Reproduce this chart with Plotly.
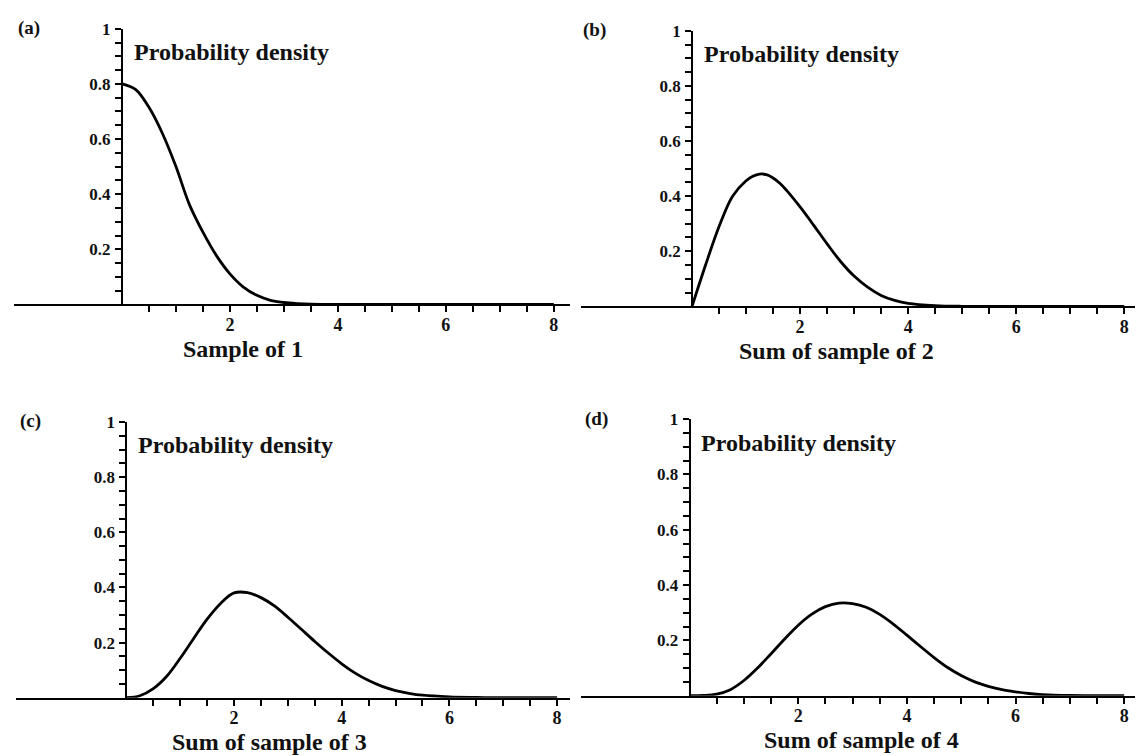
import plotly.graph_objects as go

# Density curves for the four panels (x = value of the sum, y = probability density)
x_one = [0, 0.25, 0.5, 0.75, 1.0, 1.25, 1.5, 1.75, 2.0, 2.25, 2.5, 2.75, 3.0, 3.25, 3.5, 4.0, 5.0, 6.0, 7.0, 8.0]
y_one = [0.80, 0.78, 0.715, 0.62, 0.50, 0.362, 0.262, 0.177, 0.111, 0.063, 0.033, 0.015, 0.007, 0.003, 0.001, 0.0, 0.0, 0.0, 0.0, 0.0]

x_two = [0, 0.25, 0.5, 0.75, 1.0, 1.125, 1.25, 1.375, 1.5, 1.625, 1.75, 2.0, 2.25, 2.5, 2.75, 3.0, 3.25, 3.5, 3.75, 4.0, 4.5, 5.0, 6.0, 7.0, 8.0]
y_two = [0.0, 0.15, 0.29, 0.40, 0.456, 0.472, 0.480, 0.478, 0.466, 0.447, 0.421, 0.361, 0.295, 0.227, 0.163, 0.11, 0.07, 0.04, 0.022, 0.011, 0.003, 0.0005, 0.0, 0.0, 0.0]

x_three = [0, 0.25, 0.5, 0.75, 1.0, 1.25, 1.5, 1.75, 2.0, 2.25, 2.5, 2.75, 3.0, 3.25, 3.5, 3.75, 4.0, 4.25, 4.5, 4.75, 5.0, 5.25, 5.5, 6.0, 6.5, 7.0, 8.0]
y_three = [0.0, 0.007, 0.033, 0.078, 0.143, 0.215, 0.285, 0.342, 0.380, 0.381, 0.363, 0.333, 0.292, 0.248, 0.204, 0.162, 0.123, 0.089, 0.062, 0.041, 0.026, 0.016, 0.009, 0.003, 0.001, 0.0, 0.0]

x_four = [0, 0.25, 0.5, 0.75, 1.0, 1.25, 1.5, 1.75, 2.0, 2.25, 2.5, 2.75, 3.0, 3.25, 3.5, 3.75, 4.0, 4.25, 4.5, 4.75, 5.0, 5.25, 5.5, 5.75, 6.0, 6.25, 6.5, 7.0, 8.0]
y_four = [0.0, 0.001, 0.006, 0.022, 0.055, 0.10, 0.152, 0.205, 0.255, 0.295, 0.322, 0.335, 0.333, 0.32, 0.294, 0.259, 0.219, 0.178, 0.138, 0.102, 0.073, 0.050, 0.034, 0.022, 0.014, 0.008, 0.004, 0.001, 0.0]

panel_tags = ["(a)", "(b)", "(c)", "(d)"]
x_titles = ["Sample of 1", "Sum of sample of 2", "Sum of sample of 3", "Sum of sample of 4"]
density_label = "Probability density"

x_tick_vals = [0.5, 1, 1.5, 2, 2.5, 3, 3.5, 4, 4.5, 5, 5.5, 6, 6.5, 7, 7.5, 8]
x_tick_labels = ["", "", "", "2", "", "", "", "4", "", "", "", "6", "", "", "", "8"]
y_tick_vals = [0.05, 0.1, 0.15, 0.2, 0.25, 0.3, 0.35, 0.4, 0.45, 0.5,
               0.55, 0.6, 0.65, 0.7, 0.75, 0.8, 0.85, 0.9, 0.95, 1.0]
y_tick_labels = ["", "", "", "0.2", "", "", "", "0.4", "", "", "", "0.6", "", "", "", "0.8", "", "", "", "1"]

curves = [(x_one, y_one), (x_two, y_two), (x_three, y_three), (x_four, y_four)]

W, H = 1138, 756
FONT = "Liberation Serif, Times New Roman, serif"

# Panel geometry in pixels: (left, right), (top, bottom), x range, title position, tag position
panels = [
    dict(px=(14, 570), py=(20, 299), xr=(-2.0, 8.3), title_x=2.24, tag=(29, 19)),
    dict(px=(581, 1135), py=(22, 301), xr=(-2.056, 8.2), title_x=2.67, tag=(594, 21)),
    dict(px=(16, 570), py=(418, 697), xr=(-2.05, 8.24), title_x=2.65, tag=(30, 417)),
    dict(px=(581, 1135), py=(415, 695), xr=(-2.0, 8.2), title_x=3.16, tag=(596, 415)),
]

fig = go.Figure()
annotations = []

for i, (p, (xs, ys)) in enumerate(zip(panels, curves)):
    n = i + 1
    xa = "xaxis" if n == 1 else f"xaxis{n}"
    ya = "yaxis" if n == 1 else f"yaxis{n}"
    xref = "x" if n == 1 else f"x{n}"
    yref = "y" if n == 1 else f"y{n}"

    d0, d1 = p["px"][0] / W, p["px"][1] / W
    yd0, yd1 = 1 - p["py"][1] / H, 1 - p["py"][0] / H
    r0, r1 = p["xr"]
    ypos = d0 + (0 - r0) / (r1 - r0) * (d1 - d0)

    fig.add_trace(go.Scatter(
        x=xs, y=ys, mode="lines", xaxis=xref, yaxis=yref,
        line=dict(color="black", width=2.8, shape="spline", smoothing=1.0),
        showlegend=False, hoverinfo="skip", cliponaxis=False,
    ))

    fig.layout[xa] = dict(
        domain=[d0, d1], range=[r0, r1], anchor=yref,
        showline=True, linecolor="black", linewidth=2,
        showgrid=False, zeroline=False,
        ticks="outside", ticklen=6, tickwidth=1.6, tickcolor="black",
        tickvals=x_tick_vals, ticktext=x_tick_labels,
        tickfont=dict(family=FONT, size=18, color="#111", weight="bold"),
        ticklabelstandoff=-3,
    )
    fig.layout[ya] = dict(
        domain=[yd0, yd1], range=[0, 1], anchor="free", position=ypos,
        showline=True, linecolor="black", linewidth=2,
        showgrid=False, zeroline=False,
        ticks="outside", ticklen=6, tickwidth=1.6, tickcolor="black",
        tickvals=y_tick_vals, ticktext=y_tick_labels,
        tickfont=dict(family=FONT, size=17, color="#111", weight="bold"),
        ticklabelstandoff=1,
    )

    # "Probability density" inside the panel, just right of the vertical axis
    annotations.append(dict(
        x=0.18, y=0.915, xref=xref, yref=yref, xanchor="left", yanchor="middle",
        text=f"<b>{density_label}</b>", showarrow=False,
        font=dict(family=FONT, size=24, color="#111"),
    ))
    # Axis title under the tick labels
    annotations.append(dict(
        x=p["title_x"], y=1 - (p["py"][1] + 45) / H, xref=xref, yref="paper",
        xanchor="center", yanchor="middle",
        text=f"<b>{x_titles[i]}</b>", showarrow=False,
        font=dict(family=FONT, size=24, color="#111"),
    ))
    # Panel tag
    annotations.append(dict(
        x=p["tag"][0] / W, y=1 - p["tag"][1] / H, xref="paper", yref="paper",
        xanchor="center", yanchor="middle",
        text=f"<b>{panel_tags[i]}</b>", showarrow=False,
        font=dict(family=FONT, size=19, color="#111"),
    ))

fig.update_layout(
    width=W, height=H,
    margin=dict(l=0, r=0, t=0, b=0),
    paper_bgcolor="white", plot_bgcolor="white",
    annotations=annotations,
)

fig.write_html("out.html")
